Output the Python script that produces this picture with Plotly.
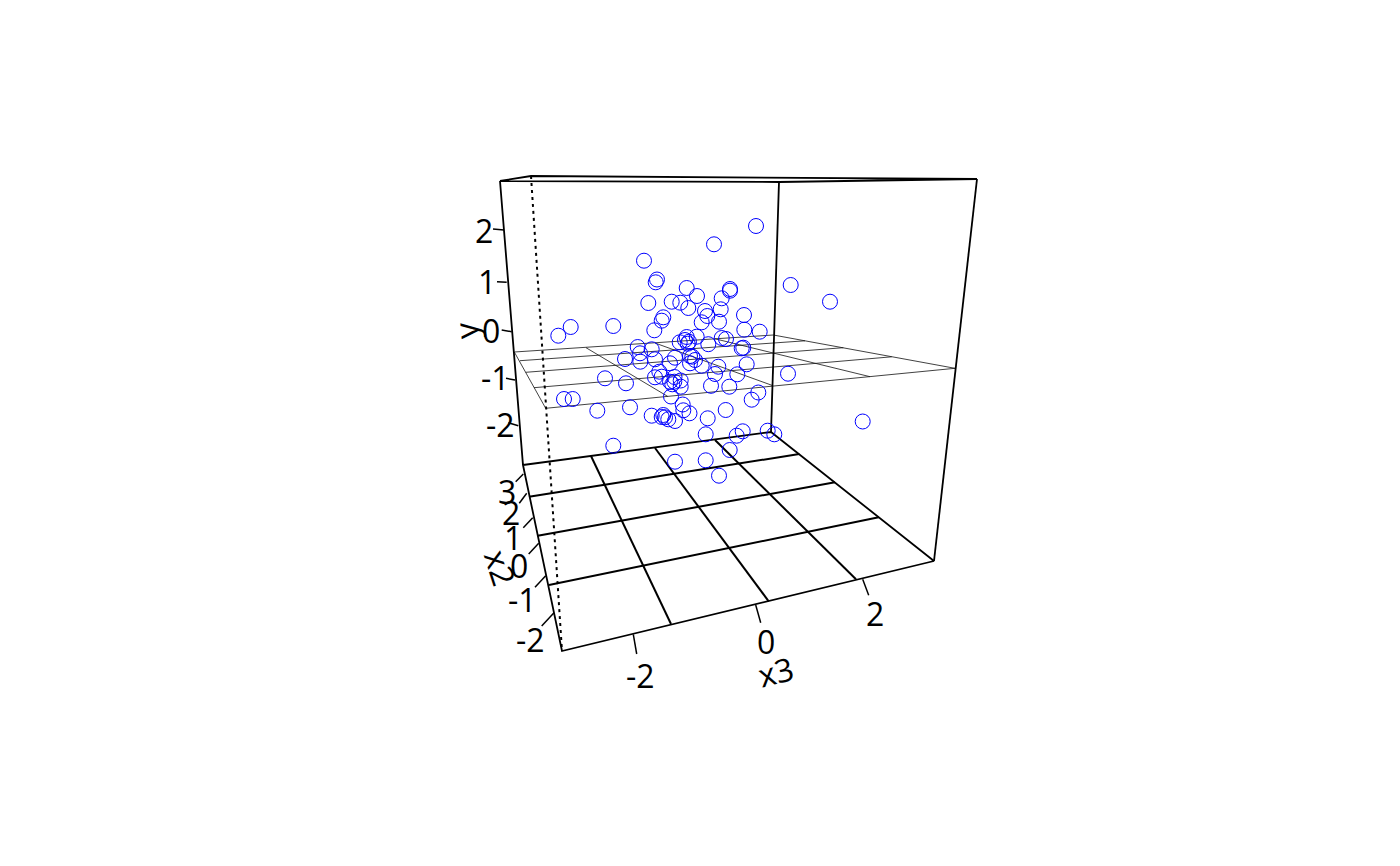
import plotly.graph_objects as go

# Points (horizontal / vertical position on the page-sized axes)
point_x = [756,714,644,657,655.7,686.7,730,730,697,721.7,790.7,830,648.3,671.7,680.3,688.3,705,720.7,707.3,701.7,719,663.3,661.7,744,744.3,759.7,570.7,613.3,654.3,558.3,696.7,721.7,726,679.7,686.7,689,687.7,685,708.3,741.7,743.3,637.7,640,625,651.7,655,640.3,675,670,690,692.3,695,690,701.7,718.3,746.7,715,737.3,659.3,655,661.7,674.5,680.7,670,672.3,674.3,680.7,605,626,711,729.3,788,758.3,751.7,671,564,572.7,597.3,630,682.7,683.3,689.5,651.7,663.3,661.7,665,668.3,675,725.7,707.7,862.7,705.7,742.7,736.7,767.7,774.3,613.3,729.7,675,705.7,719]
point_y = [226,244.3,260.7,279.5,282.3,288,289,290.7,296,298.3,285,301.7,303,301.7,302.7,308,311,309.3,316,322.3,321.7,317.3,320.7,315,329.7,331.7,327,326,330.3,335.7,336.7,338,339,342.3,337,341.7,343.7,340,344.2,348.3,347.7,347,353.3,359,349.3,359.3,361.7,357.7,363.3,356,356.7,360,363.3,365.7,366.7,364.3,374,374.3,371.7,377.3,376.7,377,380.5,381.7,384.3,381.7,386.7,378.3,383.3,385.8,386.7,373.7,392.5,399.7,396.5,399,399,410.7,407.3,404.5,410.3,413.3,415.7,415,417,417.3,419.3,421,410,418.3,421.5,434.3,431.3,435.7,430.7,434.3,445.7,450,461.7,460.3,475.7]

# Box edges
box_x = [500,779,977,531,500,None,500,523,562,934,771,523,None,779,771,None,977,934]
box_y = [181,182,179,176,181,None,181,465,651,561,432,465,None,182,432,None,179,561]
hidden_x = [531,562]
hidden_y = [176,651]

# Floor grid
floor_x = [591,671,None,655,768.7,None,715,856,None,529,799.3,None,537.7,835,None,549,878.7]
floor_y = [456,624,None,448,601.3,None,440,579.3,None,496.7,454,None,535.7,482.3,None,585,517.3]

# Middle plane
plane_x = [514.3,773.3,955,545.7,514.3,None,586,667.7,None,655,773,None,715,870,None,520,805,None,525.7,843.3,None,534,891.7]
plane_y = [352,335,368.3,408.3,352,None,347.7,396.4,None,343,385.7,None,338.8,376.7,None,360.7,340.8,None,372.3,347.7,None,387.7,356.8]

# Tick marks
tick_x = [633.3,636.7,None,755.7,760.7,None,862.7,868.7,None,523.3,515.7,None,526.7,519.3,None,532.7,523.3,None,538.7,528.7,None,545.7,535,None,554,541.7,None,493,504,None,497,506.7,None,501.7,511.7,None,506,515,None,508.3,518.3]
tick_y = [634.3,654,None,605,622.7,None,579.3,595.3,None,474,481.7,None,493.3,503.3,None,517.7,527.7,None,543.3,554,None,575.7,587.3,None,612.7,626,None,229,230,None,281.7,282.3,None,330,331.7,None,378.3,380,None,422.7,425.7]

# Tick labels
label_text = ["2","1","0","-1","-2","3","2","1","0","-1","-2","-2","0","2"]
label_x = [484,487,491,495,500,507,511,513,519,522,530,640,766,875]
label_y = [230,281,330,377,424,491,512,537,565,599,639,675,641,613]

# Axis titles
title_text = ["y","x2","x3"]
title_x = [465,501,775]
title_y = [331,567,671]
title_angle = [-95,72,-14]

FONT = "Open Sans"
SIZE = 32

fig = go.Figure()
fig.add_trace(go.Scatter(x=plane_x, y=plane_y, mode="lines", line=dict(color="#111111", width=0.8)))
fig.add_trace(go.Scatter(x=floor_x, y=floor_y, mode="lines", line=dict(color="black", width=2)))
fig.add_trace(go.Scatter(x=box_x, y=box_y, mode="lines", line=dict(color="black", width=1.8)))
fig.add_trace(go.Scatter(x=hidden_x, y=hidden_y, mode="lines", line=dict(color="black", width=2, dash="3px,4px")))
fig.add_trace(go.Scatter(x=tick_x, y=tick_y, mode="lines", line=dict(color="black", width=1.5)))
fig.add_trace(go.Scatter(x=point_x, y=point_y, mode="markers",
                         marker=dict(symbol="circle-open", size=15, color="#0000ff", line=dict(width=1))))

for t, x, y in zip(label_text, label_x, label_y):
    fig.add_annotation(x=x, y=y, xref="x", yref="y", text=t, showarrow=False,
                       font=dict(family=FONT, size=SIZE, color="black"),
                       xanchor="center", yanchor="middle")
for t, x, y, a in zip(title_text, title_x, title_y, title_angle):
    fig.add_annotation(x=x, y=y, xref="x", yref="y", text=t, showarrow=False, textangle=a,
                       font=dict(family=FONT, size=SIZE, color="black"),
                       xanchor="center", yanchor="middle")

fig.update_layout(
    width=1400, height=866, showlegend=False,
    margin=dict(l=0, r=0, t=0, b=0),
    paper_bgcolor="white", plot_bgcolor="white",
    xaxis=dict(range=[0, 1400], visible=False),
    yaxis=dict(range=[866, 0], visible=False),
)
fig.write_html("out.html", config={"displayModeBar": False},
               post_script="document.body.style.margin='0';document.documentElement.style.overflow='hidden';")
